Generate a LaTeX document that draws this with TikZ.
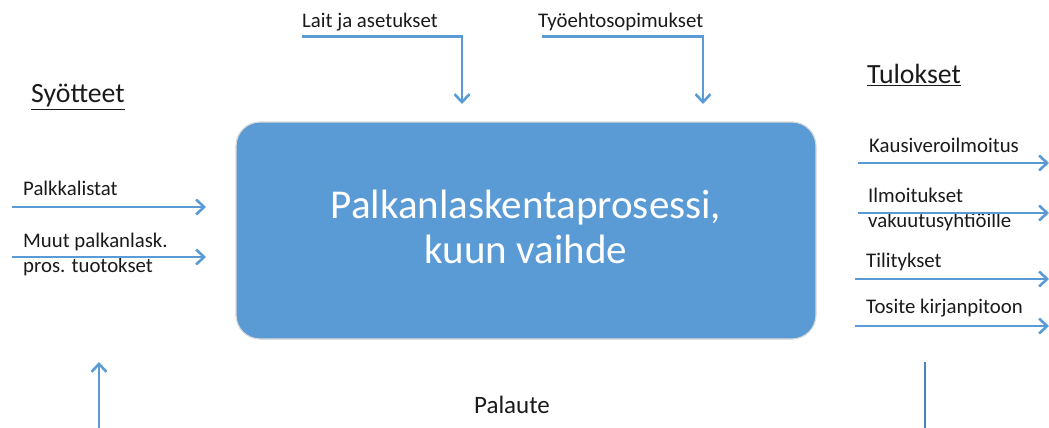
\documentclass[tikz,border=0pt]{standalone}
\usepackage{fontspec}
\setmainfont{Carlito}
\usetikzlibrary{arrows.meta}
\definecolor{flowblue}{HTML}{5B9BD5}
\definecolor{txtgrey}{HTML}{1A1A1A}
\begin{document}
\begin{tikzpicture}[x=1pt,y=-1pt,
  flow/.style={draw=flowblue,line width=2.8pt,-{Straight Barb[length=8pt,width=15pt,line width=2.6pt]}},
  plainflow/.style={draw=flowblue!85!black,line width=2.8pt},
  lbl/.style={anchor=west,inner sep=0pt,font=\fontsize{20.8}{25}\selectfont,text=txtgrey,align=left},
  head/.style={anchor=west,inner sep=0pt,font=\fontsize{27.8}{32}\selectfont,text=txtgrey},
  procbox/.style={draw=black!15,line width=1.2pt,fill=flowblue,rounded corners=24pt,inner sep=0pt},
  proctext/.style={anchor=base,inner sep=0pt,text=white,font=\fontsize{41}{45}\selectfont}
]
\useasboundingbox (0,0) rectangle (1049,428);

% central process
\node[procbox,minimum width=580pt,minimum height=217pt] (proc) at (526,230.5) {};
\node[proctext] (procA) at (526,218) {Palkanlaskentaprosessi,};
\node[proctext] (procB) at (526,263) {kuun vaihde};

% controls from above
\node[lbl] (lait) at (302,22) {Lait ja asetukset};
\node[lbl] (tyo) at (538,22) {Työehtosopimukset};
\coordinate (laitS) at (302,36.5);
\coordinate (laitC) at (462,36.5);
\coordinate (laitE) at (462,104);
\coordinate (tyoS) at (542,36.5);
\coordinate (tyoC) at (703,36.5);
\coordinate (tyoE) at (703,104);
\draw[flow] (laitS) -- (laitC) -- (laitE);
\draw[flow] (tyoS) -- (tyoC) -- (tyoE);

% inputs
\node[head] (syot) at (31,97) {\underline{Syötteet}};
\node[lbl] (palkka) at (23,188) {Palkkalistat};
\node[lbl] (muut) at (23,254.5) {Muut palkanlask.\\pros. tuotokset};
\coordinate (in1S) at (12,207);
\coordinate (in1E) at (206,207);
\coordinate (in2S) at (12,257);
\coordinate (in2E) at (206,257);
\draw[flow] (in1S) -- (in1E);
\draw[flow] (in2S) -- (in2E);

% outputs
\node[head] (tulo) at (867,75) {\underline{Tulokset}};
\node[lbl] (kausi) at (869,145) {Kausiveroilmoitus};
\node[lbl] (ilmo) at (868,209.5) {Ilmoitukset\\vakuutusyhtiöille};
\node[lbl] (tili) at (866,262) {Tilitykset};
\node[lbl] (tosi) at (866,308) {Tosite kirjanpitoon};
\coordinate (o1S) at (858,163);
\coordinate (o1E) at (1049,163);
\coordinate (o2S) at (858,213);
\coordinate (o2E) at (1049,213);
\coordinate (o3S) at (855,279);
\coordinate (o3E) at (1049,279);
\coordinate (o4S) at (855,326);
\coordinate (o4E) at (1049,326);
\draw[flow] (o1S) -- (o1E);
\draw[flow] (o2S) -- (o2E);
\draw[flow] (o3S) -- (o3E);
\draw[flow] (o4S) -- (o4E);

% feedback
\node[anchor=base,inner sep=0pt,font=\fontsize{25}{28}\selectfont,text=txtgrey] (pal) at (512,413) {Palaute};
\coordinate (fbS) at (99,428);
\coordinate (fbE) at (99,362);
\coordinate (fb2S) at (925,362);
\coordinate (fb2E) at (925,428);
\draw[flow] (fbS) -- (fbE);
\draw[plainflow] (fb2S) -- (fb2E);
\end{tikzpicture}
\end{document}
